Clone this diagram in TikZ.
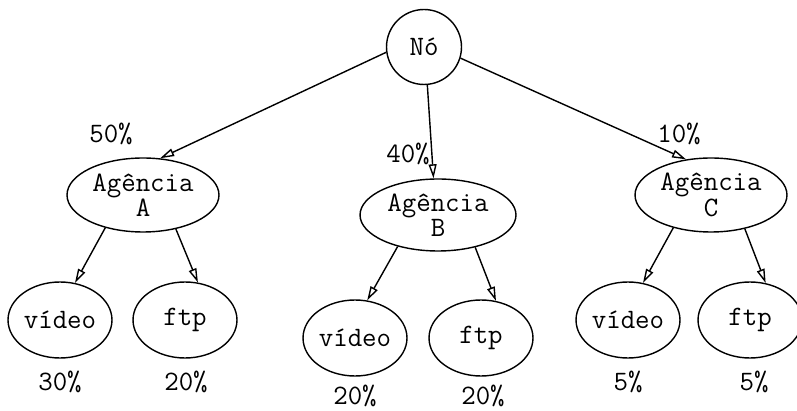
\documentclass[tikz,border=0pt]{standalone}
\usepackage{fontspec}
\usetikzlibrary{shapes.geometric,arrows.meta}
\begin{document}
\begin{tikzpicture}[x=0.02cm,y=-0.02cm,
    font=\ttfamily\fontsize{16}{14.5}\selectfont,
    elip/.style={draw,ellipse,inner sep=0pt,align=center,line width=0.8pt},
    ag/.style={elip,minimum width=3.04cm,minimum height=1.48cm},
    folha/.style={elip,minimum width=2.08cm,minimum height=1.52cm},
    pct/.style={inner sep=0pt},
    seta/.style={-{Triangle[open,length=8pt,width=4.5pt]},line width=0.8pt}]
    \useasboundingbox (0,0) rectangle (797,411);
    % raiz
    \node[draw,circle,line width=0.8pt,minimum size=1.5cm,inner sep=0pt] (no) at (424,47) {Nó};
    % agencias
    \node[ag] (agA) at (143,195) {Agência\\A};
    \node[ag,minimum width=3.12cm,minimum height=1.44cm] (agB) at (438,215) {Agência\\B};
    \node[ag] (agC) at (711,195) {Agência\\C};
    % folhas
    \node[folha] (vidA) at (60,320) {vídeo};
    \node[folha] (ftpA) at (185,320) {ftp};
    \node[folha] (vidB) at (355,338) {vídeo};
    \node[folha] (ftpB) at (481,338) {ftp};
    \node[folha] (vidC) at (628,320) {vídeo};
    \node[folha] (ftpC) at (750,320) {ftp};
    % percentagens
    \node[pct] (pA) at (111,134) {50\%};
    \node[pct] (pB) at (408,154) {40\%};
    \node[pct] (pC) at (679,134) {10\%};
    \node[pct] (pvA) at (60,382) {30\%};
    \node[pct] (pfA) at (186,382) {20\%};
    \node[pct] (pvB) at (355,396) {20\%};
    \node[pct] (pfB) at (483,396) {20\%};
    \node[pct] (pvC) at (628,382) {5\%};
    \node[pct] (pfC) at (754,382) {5\%};
    % ligacoes
    \draw[seta] (no.188) -- (agA.65);
    \draw[seta] (no.275) -- (agB.97);
    \draw[seta] (no.343) -- (agC.125);
    \draw[seta] (agA.221) -- (vidA.68);
    \draw[seta] (agA.314) -- (ftpA.71);
    \draw[seta] (agB.218) -- (vidB.72);
    \draw[seta] (agB.319) -- (ftpB.68);
    \draw[seta] (agC.221) -- (vidC.68);
    \draw[seta] (agC.315) -- (ftpC.67);
\end{tikzpicture}
\end{document}
